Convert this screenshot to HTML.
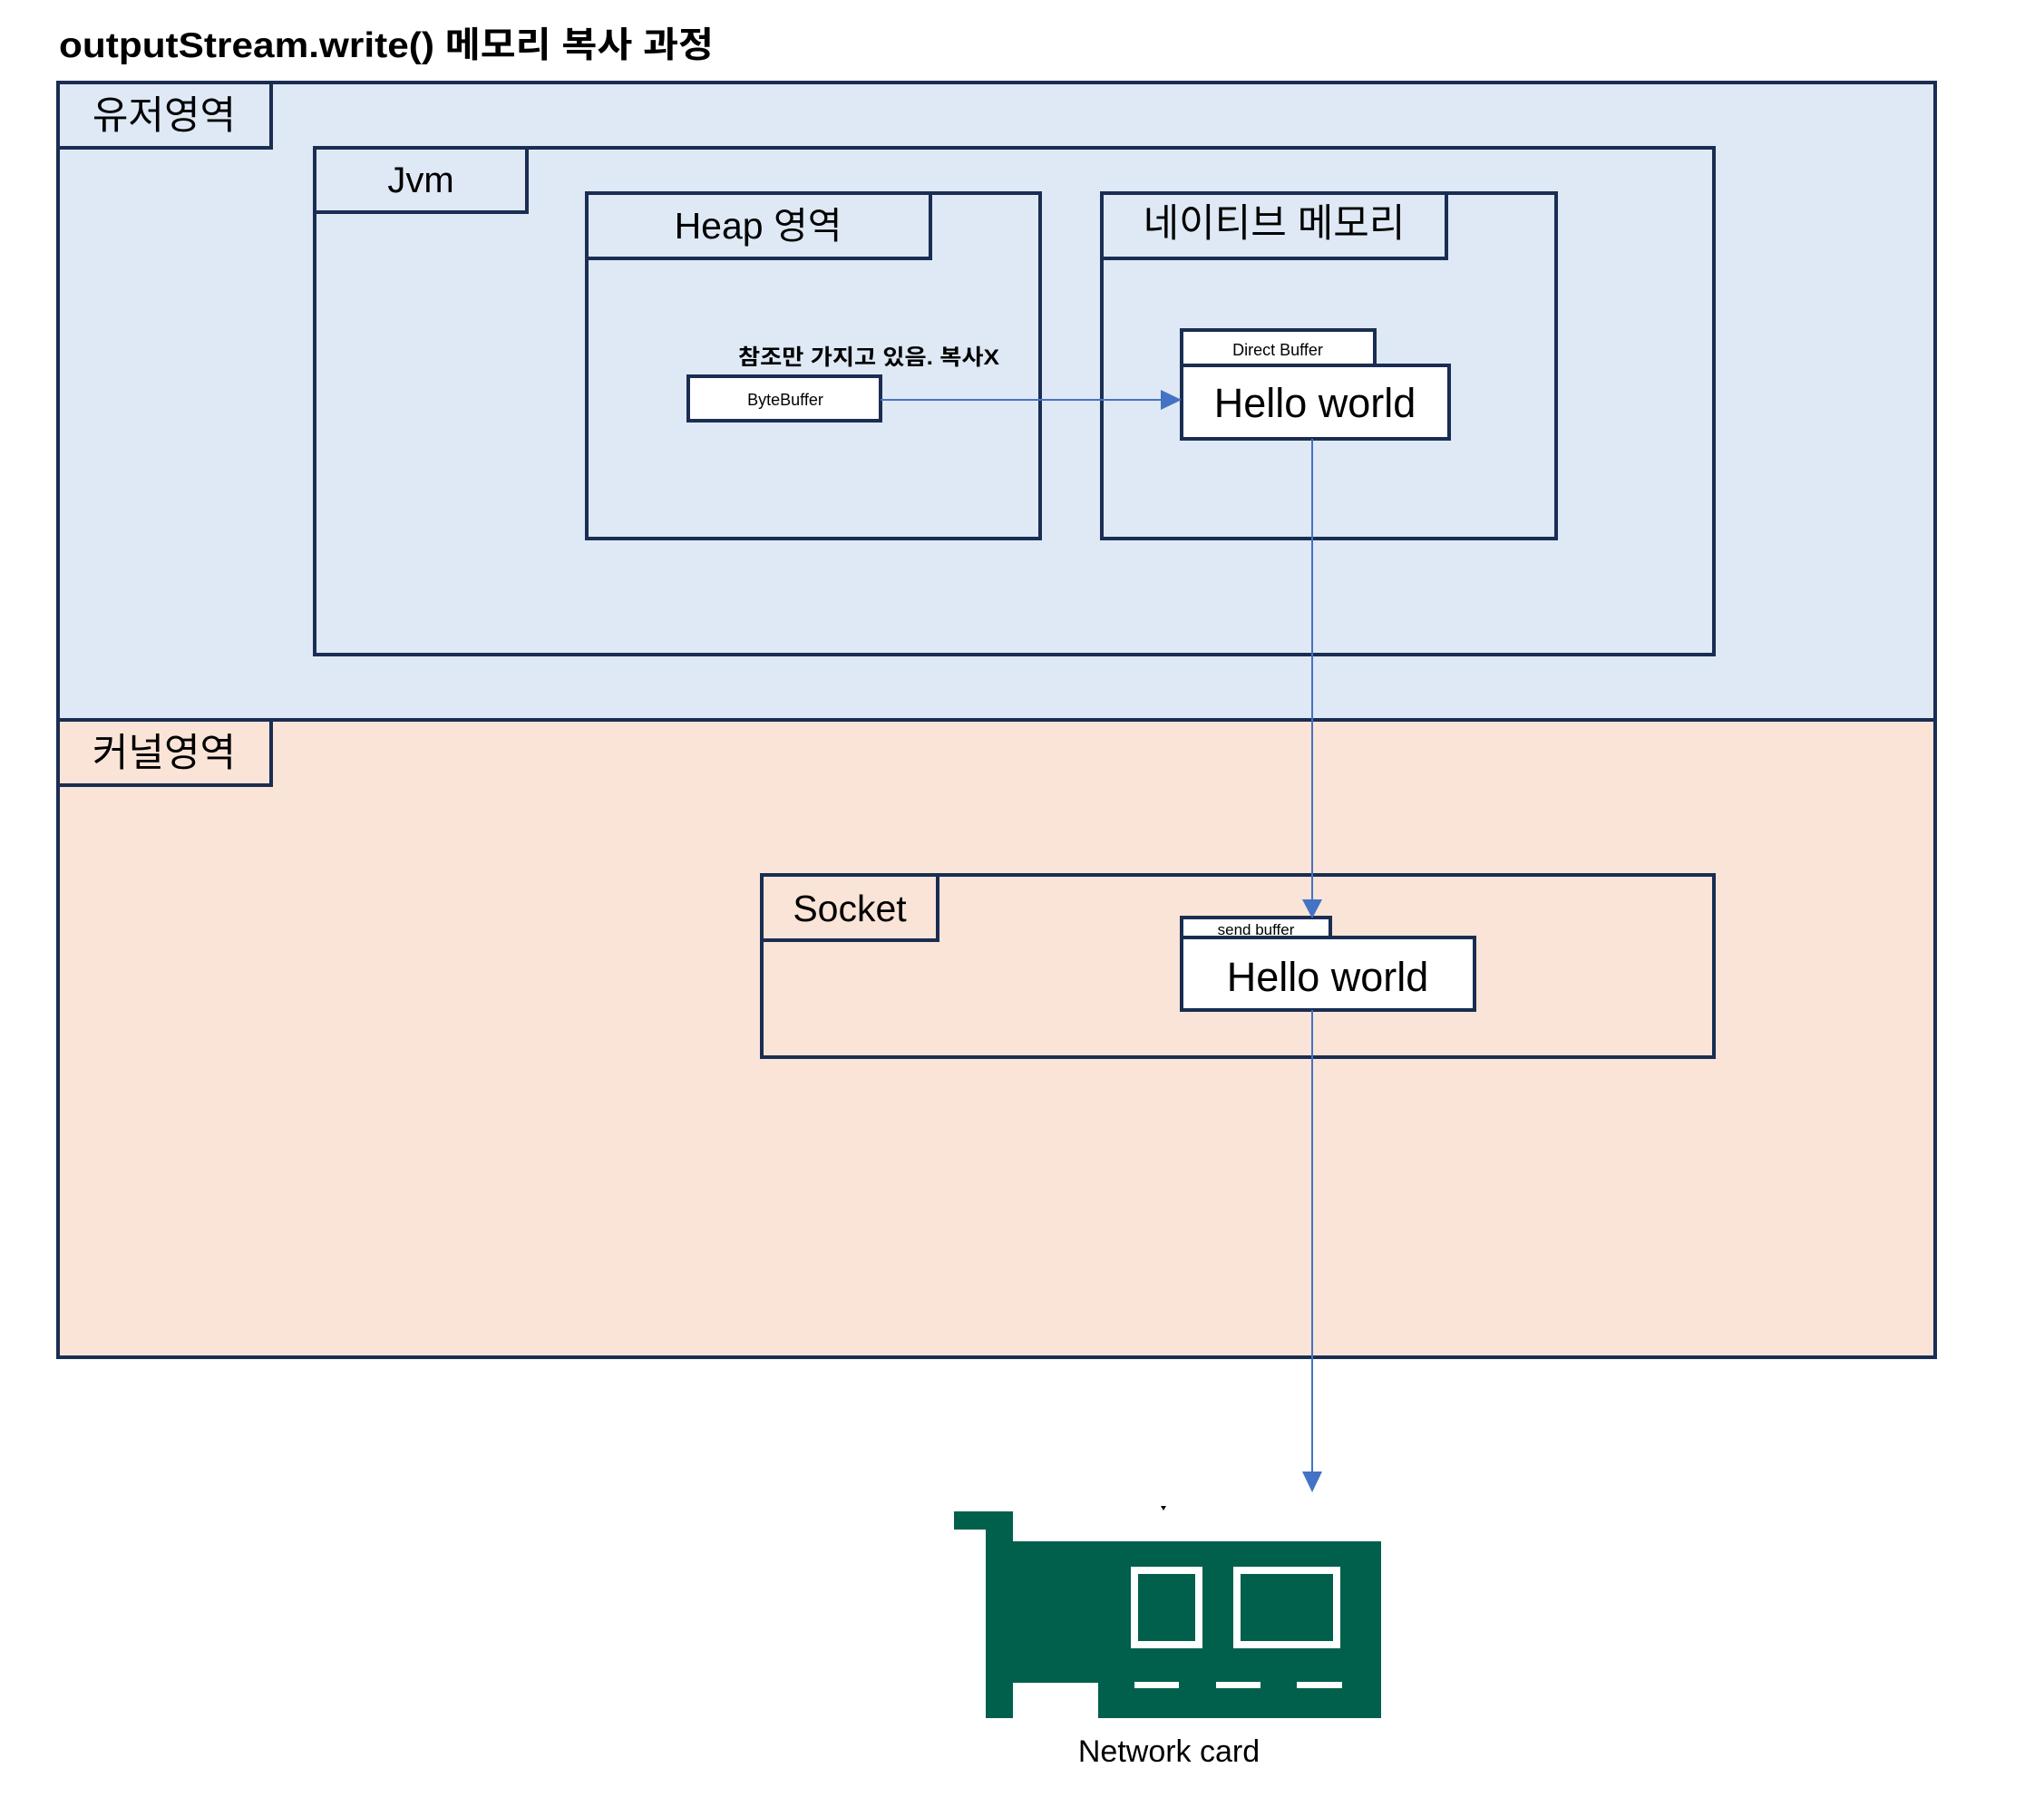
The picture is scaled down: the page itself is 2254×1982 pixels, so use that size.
<!DOCTYPE html>
<html><head><meta charset="utf-8"><style>
html,body{margin:0;padding:0;background:#fff;}
svg text{font-family:"Liberation Sans","Noto Sans CJK KR",sans-serif;fill:#000;}
</style></head><body>
<svg width="2254" height="1977" viewBox="0 0 2254 1977" xmlns="http://www.w3.org/2000/svg">
<text x="65" y="63" font-size="39" font-weight="bold" textLength="722" lengthAdjust="spacingAndGlyphs">outputStream.write() 메모리 복사 과정</text>
<g stroke="#1a2d52" stroke-width="4">
<rect x="64" y="91" width="2070" height="703" fill="#dee9f5"/>
<rect x="64" y="794" width="2070" height="703" fill="#fae4d7"/>
<rect x="64" y="91" width="235" height="72" fill="#dee9f5"/>
<rect x="64" y="794" width="235" height="72" fill="#fae4d7"/>
<rect x="347" y="163" width="1543" height="559" fill="none"/>
<rect x="347" y="163" width="234" height="71" fill="none"/>
<rect x="647" y="213" width="500" height="381" fill="none"/>
<rect x="647" y="213" width="379" height="72" fill="none"/>
<rect x="1215" y="213" width="501" height="381" fill="none"/>
<rect x="1215" y="213" width="380" height="72" fill="none"/>
<rect x="759" y="415" width="212" height="49" fill="#fff"/>
<rect x="1303" y="364" width="213" height="39" fill="#fff"/>
<rect x="1303" y="403" width="295" height="81" fill="#fff"/>
<rect x="840" y="965" width="1050" height="201" fill="none"/>
<rect x="840" y="965" width="194" height="72" fill="none"/>
<rect x="1303" y="1012" width="164" height="22" fill="#fff"/>
<rect x="1303" y="1034" width="323" height="80" fill="#fff"/>
</g>
<text x="181" y="142" font-size="43" text-anchor="middle">유저영역</text>
<text x="181" y="845" font-size="43" text-anchor="middle">커널영역</text>
<text x="464" y="212" font-size="40" text-anchor="middle">Jvm</text>
<text x="836" y="263" font-size="41" text-anchor="middle">Heap 영역</text>
<text x="1405" y="261" font-size="43" text-anchor="middle">네이티브 메모리</text>
<text x="958" y="402" font-size="24" font-weight="bold" text-anchor="middle" textLength="288" lengthAdjust="spacingAndGlyphs">참조만 가지고 있음. 복사X</text>
<text x="866" y="447" font-size="18" text-anchor="middle">ByteBuffer</text>
<text x="1409" y="392" font-size="18" text-anchor="middle">Direct Buffer</text>
<text x="1450" y="460" font-size="45" text-anchor="middle">Hello world</text>
<text x="937" y="1016" font-size="41" text-anchor="middle">Socket</text>
<text x="1385" y="1031" font-size="17" text-anchor="middle">send buffer</text>
<text x="1464" y="1093" font-size="45" text-anchor="middle">Hello world</text>
<g stroke="#4472c4" stroke-width="2" fill="none">
<line x1="971" y1="441" x2="1284" y2="441"/>
<line x1="1447" y1="484" x2="1447" y2="996"/>
<line x1="1447" y1="1114" x2="1447" y2="1626"/>
</g>
<g fill="#4472c4">
<polygon points="1280,430 1303,441 1280,452"/>
<polygon points="1436,992 1458,992 1447,1013"/>
<polygon points="1436,1623 1458,1623 1447,1646"/>
</g>
<g fill="#01604c">
<rect x="1052" y="1667" width="65" height="20"/>
<rect x="1087" y="1667" width="30" height="228"/>
<rect x="1117" y="1700" width="406" height="156"/>
<rect x="1211" y="1856" width="312" height="39"/>
</g>
<g fill="none" stroke="#fff" stroke-width="8">
<rect x="1251" y="1732" width="71" height="82"/>
<rect x="1364" y="1732" width="110" height="82"/>
</g>
<g fill="#fff">
<rect x="1251" y="1855" width="49" height="7"/>
<rect x="1341" y="1855" width="49" height="7"/>
<rect x="1430" y="1855" width="50" height="7"/>
</g>
<polygon points="1280,1661 1286,1661 1283,1666" fill="#000"/>
<text x="1289" y="1943" font-size="34" text-anchor="middle">Network card</text>
</svg>
</body></html>
